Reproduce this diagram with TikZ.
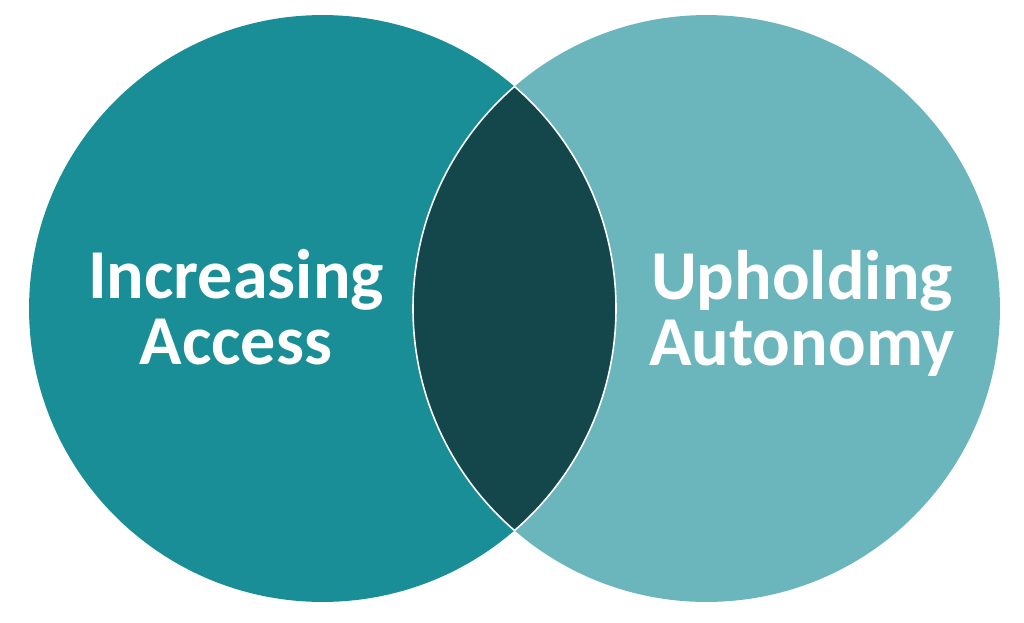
\documentclass[tikz,border=0pt]{standalone}
\usepackage{fontspec}
\setmainfont{Carlito}
\usepackage{tikz}
\usetikzlibrary{positioning}
\definecolor{accesscolor}{RGB}{26,142,150}
\definecolor{autonomycolor}{RGB}{107,181,188}
\definecolor{overlapcolor}{RGB}{19,71,75}
\tikzset{
  set/.style={circle,inner sep=0pt,minimum size=11.74cm},
  setlabel/.style={text=white,align=center,inner sep=0pt,font=\bfseries\fontsize{39.9}{37.6}\selectfont},
}

\begin{document}
\begin{tikzpicture}[x=0.02cm,y=-0.02cm]
  \useasboundingbox (0,0) rectangle (1024,622);
  % the two sets
  \node[set,fill=accesscolor] (access) at (322.5,308.5) {};
  \node[set,fill=autonomycolor] (autonomy) at (706.5,308.5) {};
  % overlap
  \begin{scope}
    \clip (access.center) circle (293.5);
    \fill[overlapcolor] (autonomy.center) circle (293.5);
    \draw[white,line width=0.9pt] (autonomy.center) circle (293.5);
  \end{scope}
  \begin{scope}
    \clip (autonomy.center) circle (293.5);
    \draw[white,line width=0.9pt] (access.center) circle (293.5);
  \end{scope}
  % labels
  \node[setlabel] (accesslabel) at (236,307) {Increasing\\Access};
  \node[setlabel] (autonomylabel) at (802,313) {Upholding\\Autonomy};
\end{tikzpicture}
\end{document}
